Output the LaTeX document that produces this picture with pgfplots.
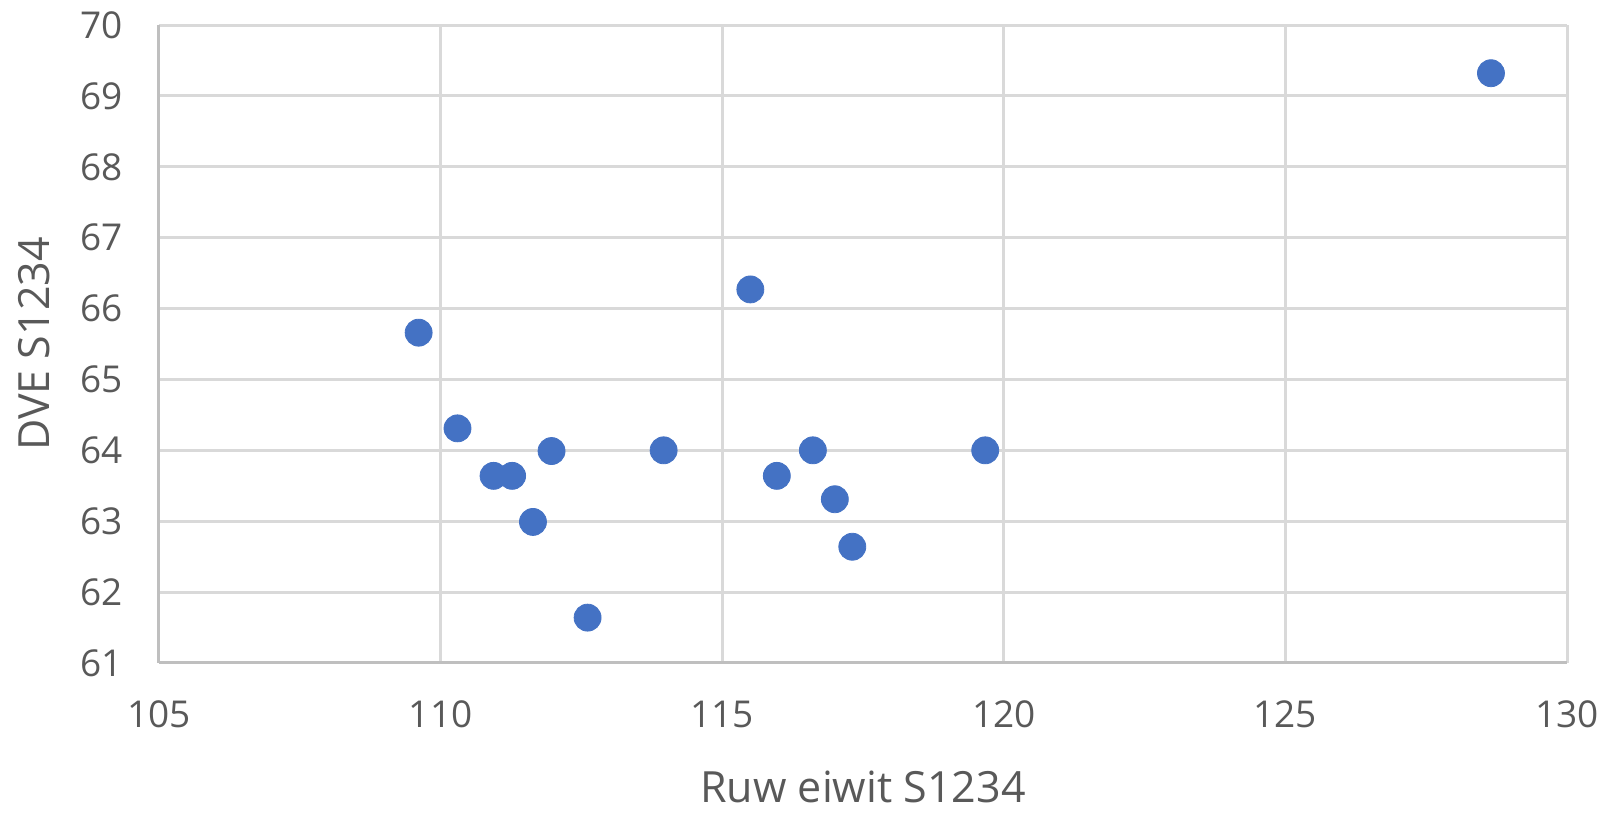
\documentclass[border=0pt]{standalone}
\usepackage{fontspec}
\setmainfont{Open Sans}
\usepackage{pgfplots}
\pgfplotsset{compat=1.18}
\definecolor{txt}{HTML}{595959}
\definecolor{gridc}{HTML}{D9D9D9}
\definecolor{axl}{HTML}{BFBFBF}
\definecolor{ptc}{HTML}{4472C4}
\begin{document}
\begin{tikzpicture}
\begin{axis}[
  at={(79.5pt,75pt)}, anchor=south west,
  scale only axis, width=704pt, height=319pt,
  xmin=105, xmax=130, ymin=61, ymax=70,
  xtick={105,110,115,120,125,130}, ytick={61,62,63,64,65,66,67,68,69,70},
  axis lines*=left,
  axis line style={axl, line width=1.5pt},
  grid=major, major grid style={gridc, line width=1.5pt},
  major tick length=0pt,
  /pgf/number format/assume math mode=true,
  ticklabel style={font=\fontsize{18.5}{22}\selectfont, text=txt},
  xticklabel style={yshift=-15.5pt},
  yticklabel style={xshift=-14.5pt},
  label style={font=\fontsize{21.5}{25}\selectfont, text=txt},
  xlabel={Ruw eiwit S1234},
  ylabel={DVE S1234},
  xlabel style={at={(axis description cs:0.5,-0.194)}, anchor=center},
  ylabel style={at={(axis description cs:-0.0888,0.5)}, anchor=center, rotate=0},
  clip=false,
]
\addplot[only marks, mark=*, mark size=6.75pt, mark options={fill=ptc, draw=ptc}] coordinates {
(128.65,69.32)
(115.50,66.27)
(109.61,65.66)
(110.30,64.31)
(110.94,63.64)
(111.27,63.64)
(111.97,63.99)
(111.64,62.99)
(112.61,61.64)
(113.96,64.00)
(115.97,63.64)
(116.61,64.00)
(117.00,63.31)
(117.31,62.64)
(119.67,64.00)
};
\end{axis}
\pgfresetboundingbox
\useasboundingbox (0,0) rectangle (807pt,406.5pt);
\end{tikzpicture}
\end{document}
